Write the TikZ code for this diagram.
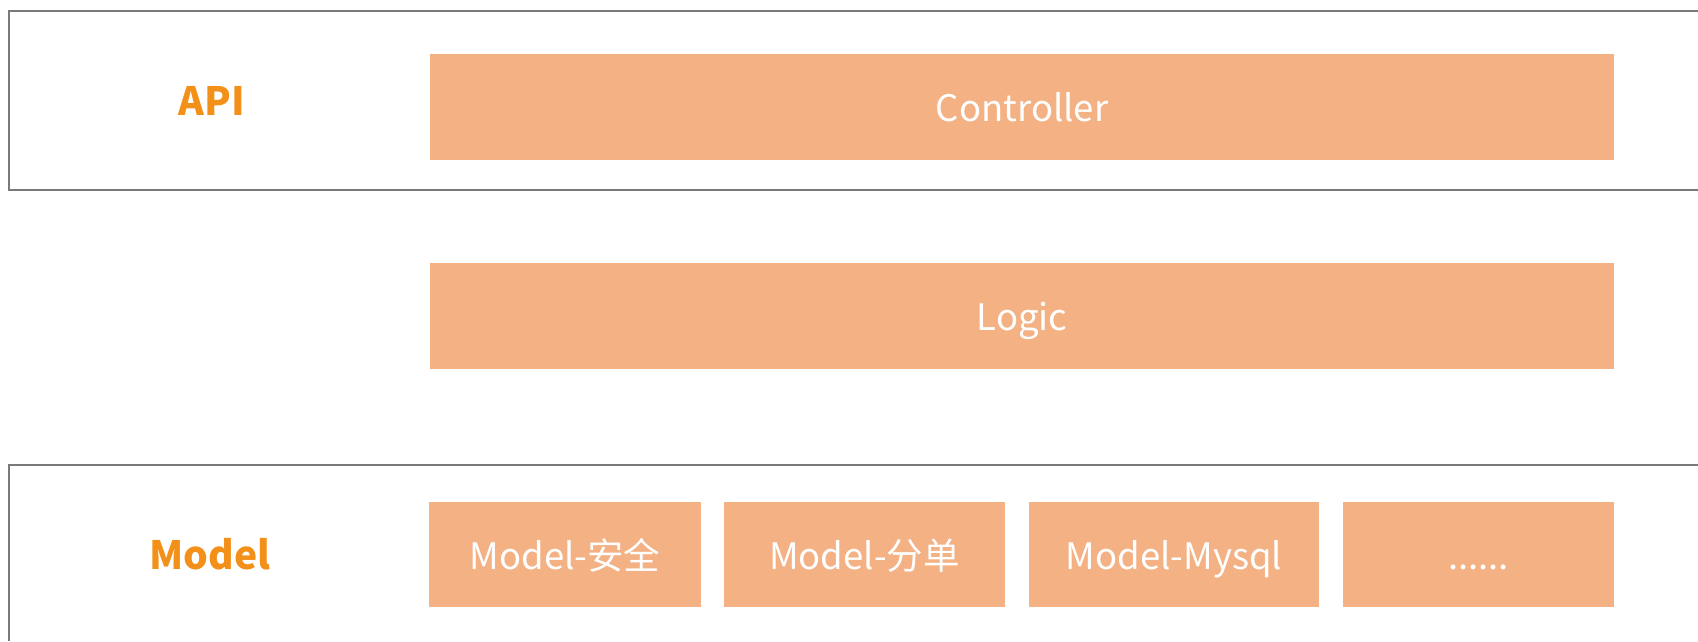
\documentclass[tikz,border=0pt]{standalone}
\usepackage{fontspec}
\setmainfont{Noto Sans CJK SC}
\usepackage{tikz}

\definecolor{boxfill}{HTML}{F3B184}
\definecolor{tagorange}{HTML}{F39019}
\definecolor{framegray}{HTML}{7A7A7A}

\begin{document}
\begin{tikzpicture}[x=1pt,y=-1pt,
		layerbox/.style={fill=boxfill, text=white, inner sep=0pt, text height=32.5pt, text depth=3.5pt, font=\fontsize{36.5}{40}\selectfont},
		tag/.style={text=tagorange, font=\bfseries\fontsize{39}{44}\selectfont},
		frame/.style={draw=framegray, line width=2pt}]
		
		\useasboundingbox (0,0) rectangle (1698,641);
		
		% open frames (cut off on the right / bottom)
		\draw[frame] (1698,10.5) -- (9,10.5) -- (9,189.5) -- (1698,189.5);
		\draw[frame] (1698,465) -- (9,465) -- (9,641);
		
		% layer names
		\node[tag] (api) at (212,101) {API};
		\node[tag] (model) at (210,554) {Model};
		
		% wide layers
		\node[layerbox, minimum width=1184pt, minimum height=106pt] (ctrl) at (1022,107) {Controller};
		\node[layerbox, minimum width=1184pt, minimum height=106pt] (logic) at (1022,316) {Logic};
		
		% model parts
		\foreach \cx/\w/\txt [count=\i] in {565/272/{Model-安全}, 864.5/281/{Model-分单}, 1174/290/{Model-Mysql}, 1478.5/271/{{......}}}{
			\node[layerbox, minimum width=\w pt, minimum height=105pt] (m\i) at (\cx,554.5) {\txt};
		}
		
	\end{tikzpicture}
\end{document}
